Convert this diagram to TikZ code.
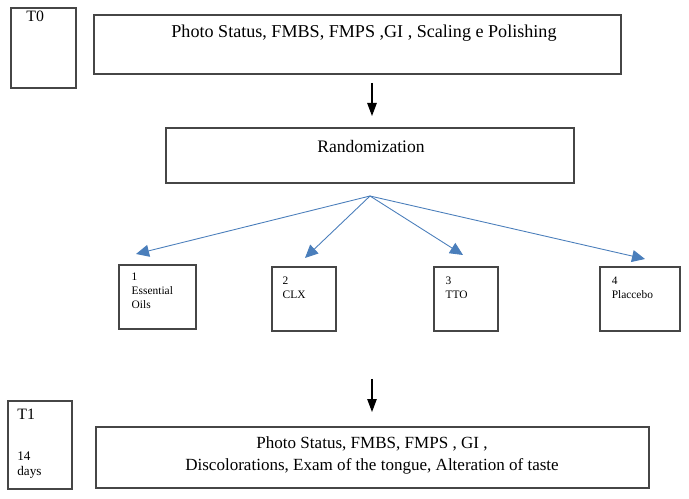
\documentclass[tikz,border=0pt]{standalone}
\usepackage{fontspec}
\setmainfont{Liberation Serif}
\usetikzlibrary{arrows.meta}
\definecolor{fanblue}{RGB}{74,126,187}
\definecolor{boxgray}{RGB}{70,70,70}
\tikzset{
  box/.style={draw=boxgray, line width=0.7pt, inner sep=0pt},
  bigtext/.style={font=\fontsize{10}{12.5}\selectfont, align=center, inner sep=0pt},
  timetext/.style={font=\fontsize{9}{11}\selectfont, inner sep=0pt, anchor=west},
  smalltext/.style={font=\fontsize{6.5}{8}\selectfont, align=left, inner sep=0pt, anchor=north west},
  downarrow/.style={-{Triangle[length=0.26cm,width=0.19cm]}, line width=0.6pt},
  fanarrow/.style={-{Triangle[length=0.26cm,width=0.24cm]}, fanblue, line width=0.5pt},
}

\begin{document}
\begin{tikzpicture}[x=0.02cm, y=-0.02cm]
\useasboundingbox (0,0) rectangle (689,499);

\node [box, minimum width=1.30cm, minimum height=1.60cm] (t0box) at (43.5,48) {};
\node [timetext] (t0) at (26,16) {T0};
\node [box, minimum width=10.54cm, minimum height=1.18cm] (base) at (357.5,44.5) {};
\node [bigtext, font=\fontsize{10.3}{12.5}\selectfont] (basetext) at (364,33) {Photo Status, FMBS, FMPS ,GI , Scaling e Polishing};

\coordinate (a1s) at (372,83);
\coordinate (a1e) at (372,116);
\draw [downarrow] (a1s) -- (a1e);

\node [box, minimum width=8.16cm, minimum height=1.10cm] (rand) at (370,155.5) {};
\node [bigtext] (randtext) at (371,146) {Randomization};

\node [box, minimum width=1.54cm, minimum height=1.28cm] (g1) at (157.5,297) {};
\node [box, minimum width=1.28cm, minimum height=1.28cm] (g2) at (304,299) {};
\node [box, minimum width=1.28cm, minimum height=1.28cm] (g3) at (466,299) {};
\node [box, minimum width=1.60cm, minimum height=1.28cm] (g4) at (640,299) {};
\node [smalltext] (g1text) at ([xshift=0.26cm,yshift=-0.16cm]g1.north west) {1\\Essential\\Oils};
\node [smalltext] (g2text) at ([xshift=0.22cm,yshift=-0.2cm]g2.north west) {2\\CLX};
\node [smalltext] (g3text) at ([xshift=0.24cm,yshift=-0.2cm]g3.north west) {3\\TTO};
\node [smalltext] (g4text) at ([xshift=0.24cm,yshift=-0.2cm]g4.north west) {4\\Placcebo};

\coordinate (fan) at (370,196);
\coordinate (tip1) at (136,254);
\coordinate (tip2) at (305,258);
\coordinate (tip3) at (463,255);
\coordinate (tip4) at (645,259);
\draw [fanarrow] (fan) -- (tip1);
\draw [fanarrow] (fan) -- (tip2);
\draw [fanarrow] (fan) -- (tip3);
\draw [fanarrow] (fan) -- (tip4);

\coordinate (a2s) at (372,379);
\coordinate (a2e) at (372,412);
\draw [downarrow] (a2s) -- (a2e);

\node [box, minimum width=1.28cm, minimum height=1.76cm] (t1box) at (40,445) {};
\node [timetext] (t1) at (17,414) {T1};
\node [smalltext, font=\fontsize{7.5}{9}\selectfont] (t1days) at (17,451) {14\\days};
\node [box, minimum width=11.06cm, minimum height=1.22cm] (follow) at (372.5,457.5) {};
\node [bigtext, font=\fontsize{9.7}{12.5}\selectfont] (followtext) at (372,455) {Photo Status, FMBS, FMPS , GI ,\\Discolorations, Exam of the tongue, Alteration of taste};
\end{tikzpicture}
\end{document}
